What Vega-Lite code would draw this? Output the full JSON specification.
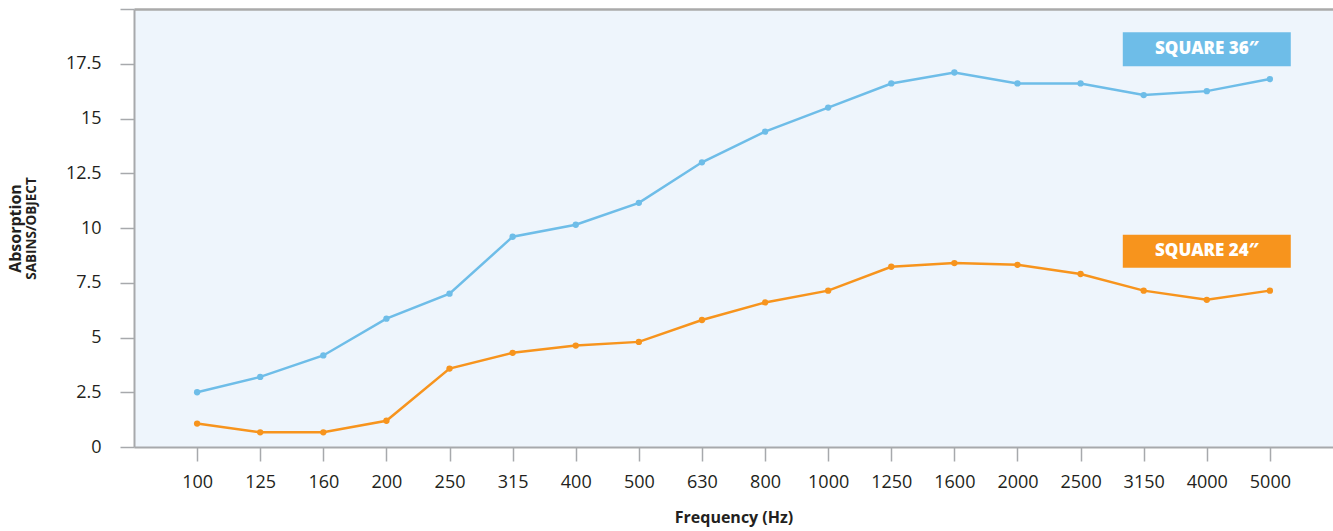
{
  "$schema": "https://vega.github.io/schema/vega-lite/v6.json",
  "width": 1199,
  "height": 438,
  "autosize": {"type": "none"},
  "padding": {"left": 134, "top": 9, "right": 0, "bottom": 84},
  "background": "white",
  "config": {
    "view": {"fill": "#EEF5FC", "stroke": null},
    "font": "Open Sans",
    "axis": {
      "domainColor": "#A7A9AC",
      "tickColor": "#A7A9AC",
      "domainWidth": 2,
      "tickWidth": 1.5,
      "labelColor": "#231F20",
      "titleColor": "#231F20",
      "labelFontSize": 18,
      "grid": false
    }
  },
  "datasets": {
    "absorption": [
      {"freq": "100", "series": "SQUARE 36″", "absorption": 2.5},
      {"freq": "125", "series": "SQUARE 36″", "absorption": 3.2},
      {"freq": "160", "series": "SQUARE 36″", "absorption": 4.18},
      {"freq": "200", "series": "SQUARE 36″", "absorption": 5.86},
      {"freq": "250", "series": "SQUARE 36″", "absorption": 7.0},
      {"freq": "315", "series": "SQUARE 36″", "absorption": 9.6},
      {"freq": "400", "series": "SQUARE 36″", "absorption": 10.15},
      {"freq": "500", "series": "SQUARE 36″", "absorption": 11.15},
      {"freq": "630", "series": "SQUARE 36″", "absorption": 13.0},
      {"freq": "800", "series": "SQUARE 36″", "absorption": 14.4},
      {"freq": "1000", "series": "SQUARE 36″", "absorption": 15.5},
      {"freq": "1250", "series": "SQUARE 36″", "absorption": 16.6},
      {"freq": "1600", "series": "SQUARE 36″", "absorption": 17.1},
      {"freq": "2000", "series": "SQUARE 36″", "absorption": 16.6},
      {"freq": "2500", "series": "SQUARE 36″", "absorption": 16.6},
      {"freq": "3150", "series": "SQUARE 36″", "absorption": 16.07},
      {"freq": "4000", "series": "SQUARE 36″", "absorption": 16.25},
      {"freq": "5000", "series": "SQUARE 36″", "absorption": 16.8},
      {"freq": "100", "series": "SQUARE 24″", "absorption": 1.07},
      {"freq": "125", "series": "SQUARE 24″", "absorption": 0.67},
      {"freq": "160", "series": "SQUARE 24″", "absorption": 0.67},
      {"freq": "200", "series": "SQUARE 24″", "absorption": 1.2},
      {"freq": "250", "series": "SQUARE 24″", "absorption": 3.58},
      {"freq": "315", "series": "SQUARE 24″", "absorption": 4.3},
      {"freq": "400", "series": "SQUARE 24″", "absorption": 4.63},
      {"freq": "500", "series": "SQUARE 24″", "absorption": 4.8},
      {"freq": "630", "series": "SQUARE 24″", "absorption": 5.8},
      {"freq": "800", "series": "SQUARE 24″", "absorption": 6.6},
      {"freq": "1000", "series": "SQUARE 24″", "absorption": 7.14},
      {"freq": "1250", "series": "SQUARE 24″", "absorption": 8.23},
      {"freq": "1600", "series": "SQUARE 24″", "absorption": 8.4},
      {"freq": "2000", "series": "SQUARE 24″", "absorption": 8.32},
      {"freq": "2500", "series": "SQUARE 24″", "absorption": 7.9},
      {"freq": "3150", "series": "SQUARE 24″", "absorption": 7.14},
      {"freq": "4000", "series": "SQUARE 24″", "absorption": 6.72},
      {"freq": "5000", "series": "SQUARE 24″", "absorption": 7.14}
    ],
    "labels": [
      {"freq": "4000", "series": "SQUARE 36″", "top": 18.94, "bottom": 17.39, "mid": 18.17},
      {"freq": "4000", "series": "SQUARE 24″", "top": 9.69, "bottom": 8.19, "mid": 8.94}
    ]
  },
  "layer": [
    {
      "data": {"name": "absorption"},
      "mark": {"type": "line", "strokeWidth": 2.5},
      "encoding": {
        "x": {
          "field": "freq", "type": "ordinal",
          "sort": ["100","125","160","200","250","315","400","500","630","800","1000","1250","1600","2000","2500","3150","4000","5000"],
          "scale": {"type": "point", "padding": 1},
          "axis": {"orient": "bottom", "title": "Frequency (Hz)", "labelAngle": 0, "tickSize": 14, "labelPadding": 12, "titleFontSize": 16, "titleFontWeight": "bold", "titlePadding": 18, "domainWidth": 2}
        },
        "y": {
          "field": "absorption", "type": "quantitative",
          "scale": {"domain": [0, 20], "nice": false},
          "axis": {"values": [0, 2.5, 5, 7.5, 10, 12.5, 15, 17.5, 20], "format": ".1~f", "labelExpr": "datum.value == 20 ? '' : datum.label", "tickSize": 14, "labelPadding": 19, "title": "SABINS/OBJECT", "titleFontSize": 13.5, "titleFontWeight": "bold", "titlePadding": 27, "domainWidth": 2}
        },
        "color": {
          "field": "series", "type": "nominal",
          "scale": {"domain": ["SQUARE 36″", "SQUARE 24″"], "range": ["#6EBDE8", "#F7941D"]},
          "legend": null
        }
      }
    },
    {
      "data": {"name": "absorption"},
      "mark": {"type": "point", "filled": true, "size": 40, "opacity": 1},
      "encoding": {
        "x": {
          "field": "freq", "type": "ordinal",
          "sort": ["100","125","160","200","250","315","400","500","630","800","1000","1250","1600","2000","2500","3150","4000","5000"],
          "axis": {"orient": "top", "labels": false, "ticks": false, "title": null, "domain": true, "domainWidth": 2.5, "domainColor": "#AAAAAA"}
        },
        "y": {
          "field": "absorption", "type": "quantitative",
          "axis": {"orient": "left", "labels": false, "ticks": false, "domain": false, "title": "Absorption", "titleFontSize": 16, "titleFontWeight": "bold", "titlePadding": 0, "offset": 111}
        },
        "color": {"field": "series", "type": "nominal", "legend": null}
      }
    },
    {
      "data": {"name": "labels"},
      "mark": {"type": "bar", "width": 168},
      "encoding": {
        "x": {
          "field": "freq", "type": "ordinal",
          "sort": ["100","125","160","200","250","315","400","500","630","800","1000","1250","1600","2000","2500","3150","4000","5000"],
          "axis": null
        },
        "y": {"field": "top", "type": "quantitative", "axis": null},
        "y2": {"field": "bottom"},
        "color": {"field": "series", "type": "nominal", "legend": null}
      }
    },
    {
      "data": {"name": "labels"},
      "mark": {"type": "text", "font": "Open Sans", "fontWeight": 800, "fontSize": 17, "color": "white", "baseline": "middle", "align": "center"},
      "encoding": {
        "x": {
          "field": "freq", "type": "ordinal",
          "sort": ["100","125","160","200","250","315","400","500","630","800","1000","1250","1600","2000","2500","3150","4000","5000"],
          "axis": null
        },
        "y": {"field": "mid", "type": "quantitative", "axis": null},
        "text": {"field": "series"}
      }
    }
  ],
  "resolve": {"axis": {"x": "independent", "y": "independent"}}
}
